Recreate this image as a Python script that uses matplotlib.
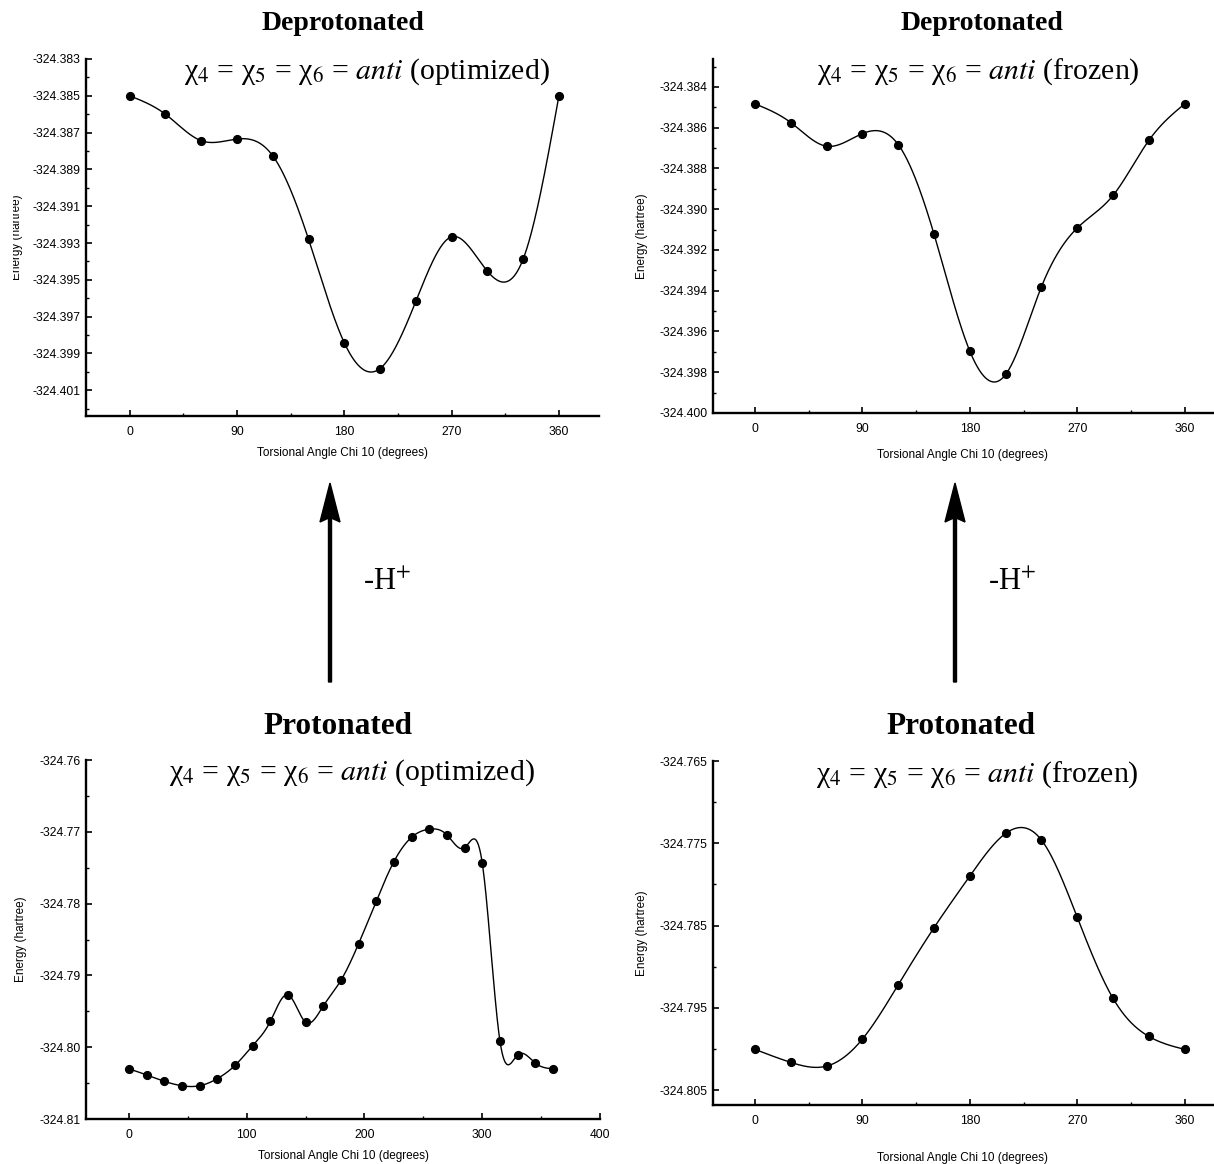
import matplotlib
matplotlib.use("Agg")
import matplotlib.pyplot as plt
import numpy as np
from matplotlib.patches import FancyArrow
from matplotlib.ticker import FuncFormatter
from matplotlib.transforms import Bbox, TransformedBbox

# torsional angle chi 10 (degrees)
angles_30 = [0, 30, 60, 90, 120, 150, 180, 210, 240, 270, 300, 330, 360]
angles_15 = [0, 15, 30, 45, 60, 75, 90, 105, 120, 135, 150, 165, 180,
             195, 210, 225, 240, 255, 270, 285, 300, 315, 330, 345, 360]

# energies (hartree)
deprot_opt = [-324.3850, -324.3860, -324.38744, -324.38735, -324.38826, -324.39279, -324.39842,
              -324.39982, -324.39617, -324.39266, -324.39453, -324.39387, -324.3850]
deprot_frz = [-324.38483, -324.38575, -324.38691, -324.38629, -324.38683, -324.39123, -324.39697,
              -324.39811, -324.39380, -324.39092, -324.38932, -324.38662, -324.38483]
prot_opt = [-324.80301, -324.80386, -324.80475, -324.80537, -324.80537, -324.80438, -324.80254,
            -324.79981, -324.79642, -324.79270, -324.79652, -324.79426, -324.79068, -324.78559,
            -324.77966, -324.77415, -324.77076, -324.76963, -324.77043, -324.77222, -324.77434,
            -324.79910, -324.80108, -324.80221, -324.80301]
prot_frz = [-324.80006, -324.80164, -324.80209, -324.79880, -324.79220, -324.78526, -324.77898,
            -324.77380, -324.77461, -324.78401, -324.79387, -324.79849, -324.80006]

W, H = 1214, 1164
plt.rcParams["font.family"] = ["Liberation Sans", "DejaVu Sans"]
plt.rcParams["mathtext.fontset"] = "stix"


def natural_spline(x, y, n=800):
    x = np.asarray(x, float); y = np.asarray(y, float)
    h = np.diff(x); m = len(x)
    A = np.zeros((m, m)); b = np.zeros(m)
    A[0, 0] = A[-1, -1] = 1
    for i in range(1, m - 1):
        A[i, i - 1] = h[i - 1]; A[i, i] = 2 * (h[i - 1] + h[i]); A[i, i + 1] = h[i]
        b[i] = 6 * ((y[i + 1] - y[i]) / h[i] - (y[i] - y[i - 1]) / h[i - 1])
    M = np.linalg.solve(A, b)
    xs = np.linspace(x[0], x[-1], n)
    k = np.clip(np.searchsorted(x, xs) - 1, 0, m - 2)
    t0 = x[k + 1] - xs; t1 = xs - x[k]; hk = h[k]
    ys = (M[k] * t0 ** 3 + M[k + 1] * t1 ** 3) / (6 * hk) \
        + (y[k] / hk - M[k] * hk / 6) * t0 + (y[k + 1] / hk - M[k + 1] * hk / 6) * t1
    return xs, ys


def px_axes(fig, left, top, right, bottom):
    return fig.add_axes([left / W, 1 - bottom / H, (right - left) / W, (bottom - top) / H])


fig = plt.figure(figsize=(W / 100, H / 100), dpi=100)

panels = [
    # x, y, pixel box, xlim, ylim, xmajor, xminor, ymajor, yminor, decimals,
    # ylabel right edge (px), ylabel clip (px), xlabel pad
    (angles_30, deprot_opt, (86, 59, 599, 416), (-36.6, 393.6), (-324.4024, -324.3830),
     [0, 90, 180, 270, 360], [45, 135, 225, 315],
     np.arange(-324.401, -324.3825, 0.002), np.arange(-324.402, -324.3825, 0.001), 3, 23, 13, 7),
    (angles_30, deprot_frz, (713, 59, 1213, 413), (-35.2, 383.7), (-324.400, -324.38263),
     [0, 90, 180, 270, 360], [45, 135, 225, 315],
     np.arange(-324.400, -324.3835, 0.002), np.arange(-324.400, -324.3825, 0.001), 3, 648, 0, 10),
    (angles_15, prot_opt, (86, 760, 600, 1119), (-36.5, 400), (-324.81, -324.76),
     [0, 100, 200, 300, 400], [50, 150, 250, 350],
     np.arange(-324.81, -324.7595, 0.01), np.arange(-324.81, -324.7595, 0.005), 2, 27, 0, 7),
    (angles_30, prot_frz, (713, 761, 1213, 1105), (-35.2, 383.7), (-324.80682, -324.765),
     [0, 90, 180, 270, 360], [45, 135, 225, 315],
     np.arange(-324.805, -324.7645, 0.01), np.arange(-324.805, -324.7645, 0.005), 3, 648, 0, 18),
]

for (xv, yv, box, xl, yl, xmaj, xmin, ymaj, ymin, dec, ylx, yclip, xpad) in panels:
    ax = px_axes(fig, *box)
    xs, ys = natural_spline(xv, yv)
    ax.plot(xs, ys, color="black", lw=1.0)
    ax.plot(xv, yv, "o", color="black", ms=5.6, clip_on=False)
    ax.spines[["top", "right"]].set_visible(False)
    ax.spines[["left", "bottom"]].set_linewidth(1.7)
    ax.set_xticks(xmaj); ax.set_xticks(xmin, minor=True)
    ax.set_yticks(ymaj); ax.set_yticks(ymin, minor=True)
    ax.set_xlim(*xl); ax.set_ylim(*yl)
    ax.yaxis.set_major_formatter(FuncFormatter(lambda v, p, d=dec: f"{v:.{d}f}"))
    ax.tick_params(which="major", direction="in", length=4.5, width=1.2, labelsize=8.7)
    ax.tick_params(which="minor", direction="in", length=2.5, width=1.0)
    ax.tick_params(axis="y", pad=4)
    ax.tick_params(axis="x", pad=7)
    ax.set_xlabel("Torsional Angle Chi 10 (degrees)", fontsize=8.5, labelpad=xpad)
    lbl = ax.set_ylabel("Energy (hartree)", fontsize=8.5)
    ax.yaxis.set_label_coords((ylx - box[0]) / (box[2] - box[0]), 0.5)
    if yclip:
        clip = TransformedBbox(Bbox([[yclip / W, 0], [1, 1]]), fig.transFigure)
        lbl.set_clip_box(clip); lbl.set_clip_on(True)

serif = ["Liberation Serif", "DejaVu Serif"]
titles = [(343, 24, "Deprotonated", 20), (982, 24, "Deprotonated", 20),
          (338, 726, "Protonated", 22.5), (961, 727, "Protonated", 22.5)]
for x, y, t, fs in titles:
    fig.text(x / W, 1 - y / H, t, family=serif, weight="bold", fontsize=fs, ha="center", va="center")

subs = [(367, 72, "optimized"), (978, 72, "frozen"), (352, 773, "optimized"), (977, 775, "frozen")]
for x, y, t in subs:
    fig.text(x / W, 1 - y / H, "χ$_4$ = χ$_5$ = χ$_6$ = $\\mathit{anti}$ (" + t + ")",
             family=serif, fontsize=21.5, ha="center", va="center")

for x, tx in [(330, 387), (955, 1012)]:
    fig.add_artist(FancyArrow(x / 100, (H - 682) / 100, 0, (682 - 483) / 100, width=0.03,
                              head_width=0.2, head_length=0.39, length_includes_head=True,
                              overhang=0.1, color="black", transform=fig.dpi_scale_trans))
    fig.text(tx / W, 1 - 583 / H, r"-H$^{+}$", family=serif, fontsize=22, ha="center", va="center")

fig.savefig("out.png", dpi=100, facecolor="white")
